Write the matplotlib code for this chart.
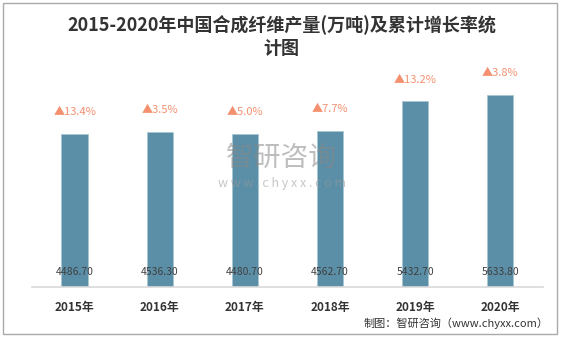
import matplotlib.pyplot as plt
from matplotlib.patches import Rectangle

plt.rcParams['font.family'] = ['Noto Sans CJK SC', 'DejaVu Sans']

years = ['2015年', '2016年', '2017年', '2018年', '2019年', '2020年']
output = [4486.70, 4536.30, 4480.70, 4562.70, 5432.70, 5633.80]
growth = ['13.4%', '3.5%', '5.0%', '7.7%', '13.2%', '3.8%']

fig = plt.figure(figsize=(5.63, 3.37), dpi=100)
ax = fig.add_axes([0.057, 0.148, 0.907, 0.71])

x = list(range(len(years)))
ax.bar(x, output, width=0.31, color='#5b8fa7', edgecolor='#a9c6d4', linewidth=0.6, zorder=2)

for i, v in enumerate(output):
    ax.text(i, 290, '%.2f' % v, ha='center', va='bottom', fontsize=7.5, color='#404040', zorder=3)
    ax.annotate('▲' + growth[i], (i, v), xytext=(0, 12), textcoords='offset points',
                ha='center', va='bottom', fontsize=8, color='#f4906e')

ax.set_xlim(-0.5, 5.5)
ax.set_ylim(0, 7000)
ax.set_xticks(x)
ax.set_xticklabels(years, fontsize=8.5, fontweight='bold', color='#333333')
ax.tick_params(axis='x', length=0, pad=10)
ax.set_yticks([])
for s in ['top', 'right', 'left']:
    ax.spines[s].set_visible(False)
ax.spines['bottom'].set_color('#d9d9d9')
ax.spines['bottom'].set_linewidth(1.2)

fig.text(0.5, 0.955, '2015-2020年中国合成纤维产量(万吨)及累计增长率统\n计图', ha='center', va='top',
         fontsize=13, fontweight='bold', color='#333333', linespacing=1.3)

# watermark
fig.text(0.5, 0.53, '智研咨询', ha='center', va='center', fontsize=20, color='#888888', alpha=0.55)
fig.text(0.5, 0.455, 'w w w . c h y x x . c o m', ha='center', va='center', fontsize=9, color='#999999', alpha=0.55)

fig.text(0.975, 0.04, '制图：智研咨询（www.chyxx.com）', ha='right', va='center', fontsize=8, color='#333333')

fig.patches.append(Rectangle((0.005, 0.01), 0.985, 0.98, transform=fig.transFigure,
                             fill=False, edgecolor='#aaaaaa', linewidth=1))

fig.savefig('out.png', dpi=100)
